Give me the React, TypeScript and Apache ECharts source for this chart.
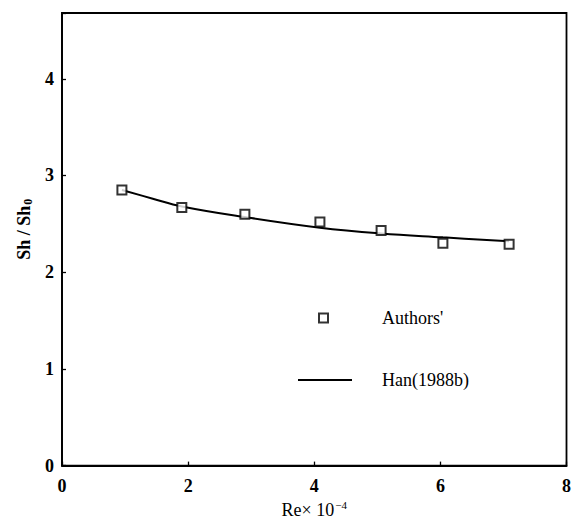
import React, { useEffect, useRef } from "react";
import * as echarts from "echarts";

// Measured data (Authors')
const authorsRe = [0.95, 1.9, 2.9, 4.09, 5.06, 6.04, 7.09];
const authorsSh = [2.85, 2.67, 2.6, 2.52, 2.43, 2.3, 2.29];

// Han (1988b) correlation curve
const hanRe = [0.95, 1.44, 1.9, 2.9, 4.09, 5.06, 6.04, 7.09];
const hanSh = [2.85, 2.76, 2.68, 2.57, 2.46, 2.4, 2.36, 2.32];

const xTicks = [0, 2, 4, 6, 8];
const yTicks = [0, 1, 2, 3, 4];

const FONT = "Liberation Serif";

export default function App() {
  const ref = useRef<HTMLDivElement>(null);
  useEffect(() => {
    if (!ref.current) return;
    const chart = echarts.init(ref.current, null, { renderer: "svg" });
    const pairs = (xs: number[], ys: number[]) => xs.map((x, i) => [x, ys[i]]);
    chart.setOption({
      animation: false,
      backgroundColor: "#fff",
      textStyle: { fontFamily: FONT, color: "#000" },
      grid: {
        left: 62,
        right: 6,
        top: 13,
        bottom: 48,
        show: true,
        borderColor: "#000",
        borderWidth: 1.8,
        backgroundColor: "transparent",
      },
      xAxis: {
        type: "value",
        min: xTicks[0],
        max: xTicks[xTicks.length - 1],
        interval: 2,
        splitLine: { show: false },
        axisLine: { lineStyle: { color: "#000", width: 1.8 } },
        axisTick: { inside: true, length: 4, lineStyle: { color: "#000", width: 1.3 } },
        axisLabel: { color: "#000", fontFamily: FONT, fontSize: 18, fontWeight: "bold", margin: 11 },
        name: "Re× 10{sup|−4}",
        nameLocation: "middle",
        nameGap: 33,
        nameTextStyle: {
          color: "#000",
          fontFamily: FONT,
          fontSize: 18,
          rich: {
            sup: { fontFamily: FONT, fontSize: 11, verticalAlign: "top", padding: [0, 0, 10, 1], color: "#000" },
          },
        },
      },
      yAxis: {
        type: "value",
        min: yTicks[0],
        max: 4.68,
        interval: 1,
        splitLine: { show: false },
        axisLine: { lineStyle: { color: "#000", width: 1.8 } },
        axisTick: { inside: true, length: 4, lineStyle: { color: "#000", width: 1.3 } },
        axisLabel: {
          color: "#000",
          fontFamily: FONT,
          fontSize: 18,
          fontWeight: "bold",
          margin: 8,
          formatter: (v: number) => (yTicks.includes(v) ? String(v) : ""),
        },
        name: "Sh / Sh{sub|0}",
        nameLocation: "middle",
        nameGap: 28,
        nameTextStyle: {
          color: "#000",
          fontFamily: FONT,
          fontSize: 18,
          fontWeight: "bold",
          padding: [0, 0, 0, 20],
          rich: {
            sub: { fontFamily: FONT, fontSize: 12, fontWeight: "bold", padding: [8, 0, 0, 1], color: "#000" },
          },
        },
      },
      legend: [
        {
          data: [{ name: "Authors'", icon: "rect" }],
          left: 313,
          top: 304,
          itemWidth: 9,
          itemHeight: 9,
          itemStyle: { color: "#fff", borderColor: "#000", borderWidth: 2 },
          textStyle: { color: "#000", fontFamily: FONT, fontSize: 18, padding: [0, 0, 0, 49] },
          selectedMode: false,
        },
        {
          data: [{ name: "Han(1988b)", icon: "rect" }],
          left: 293,
          top: 366,
          itemWidth: 54,
          itemHeight: 2,
          itemStyle: { color: "#000", borderWidth: 0 },
          textStyle: { color: "#000", fontFamily: FONT, fontSize: 18, padding: [0, 0, 0, 25] },
          selectedMode: false,
        },
      ],
      series: [
        {
          name: "Han(1988b)",
          type: "line",
          data: pairs(hanRe, hanSh),
          smooth: 0.4,
          symbol: "none",
          lineStyle: { color: "#000", width: 2 },
          itemStyle: { color: "#000" },
          z: 2,
        },
        {
          name: "Authors'",
          type: "scatter",
          data: pairs(authorsRe, authorsSh),
          symbol: "rect",
          symbolSize: 9,
          itemStyle: { color: "#fff", borderColor: "#000", borderWidth: 2 },
          z: 3,
        },
      ],
    });
    return () => chart.dispose();
  }, []);
  return (
    <div
      ref={ref}
      style={{ position: "absolute", left: 0, top: 0, width: 574, height: 524, background: "#fff" }}
    />
  );
}
